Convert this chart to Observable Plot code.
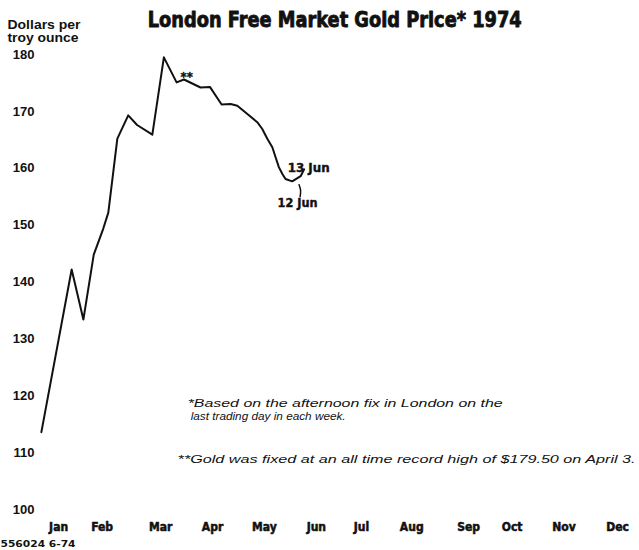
<!DOCTYPE html>
<html><head><meta charset="utf-8">
<script src="https://cdn.jsdelivr.net/npm/d3@7"></script>
<script src="https://cdn.jsdelivr.net/npm/@observablehq/plot@0.6"></script>
<style>body{margin:0;background:#fff}</style>
</head><body><div id="chart"></div>
<script>
// Weekly London afternoon fix, 1974 (x = day of year, y = US$ per troy ounce)
const days   = [4.7, 22.8, 29.8, 36.0, 41.7, 44.7, 50.1, 56.6, 61.9, 71.0, 77.9, 85.5, 89.9, 99.8, 105.4, 112.4, 117.8, 121.8, 128.7, 133.7, 136.7, 139.7, 142.7, 144.7, 146.6, 148.7, 150.6, 154.6, 159.6, 161.7];
const prices = [113.6, 142.2, 133.4, 144.8, 149.4, 152.2, 165.2, 169.3, 167.6, 165.9, 179.5, 175.1, 175.6, 174.2, 174.3, 171.2, 171.3, 171.0, 169.3, 168.1, 166.9, 165.2, 163.7, 161.9, 160.2, 159.0, 158.1, 157.7, 158.6, 159.8];

const monthLabels   = ["Jan","Feb","Mar","Apr","May","Jun","Jul","Aug","Sep","Oct","Nov","Dec"];
const monthTickDays = [15, 41, 76, 107, 138, 169, 196, 226, 260, 286, 317, 349];
const yTicks = [100, 110, 120, 130, 140, 150, 160, 170, 180];

const title = "London Free Market Gold Price* 1974";
const yLabelLines = ["Dollars per", "troy ounce"];
const caption = "556024 6-74";

const annoText = ["**", "13 Jun", "12 Jun"];
const annoDay  = [91.5, 164.4, 157.8];
const annoVal  = [176.1, 160.0, 154.0];
const annoAnchor = ["middle", "start", "end"];

const leaderDay = [158.7, 159.6, 159.3];
const leaderVal = [157.1, 156.1, 155.0];

const noteText = ["*Based on the afternoon fix in London on the", "last trading day in each week.", "**Gold was fixed at an all time record high of $179.50 on April 3."];
const noteDay  = [92.1, 93.9, 86.1];
const noteVal  = [118.6, 116.3, 108.9];

const series = days.map((d, i) => ({day: d, price: prices[i]}));
const narrow = "'Liberation Sans Narrow','DejaVu Sans Condensed','Arial Narrow',sans-serif";
const sans = "'Liberation Sans',Arial,Helvetica,sans-serif";

const chart = Plot.plot({
  width: 639, height: 550,
  marginLeft: 33, marginRight: 3.5, marginTop: 54, marginBottom: 41,
  x: {domain: [0, 360], axis: null},
  y: {domain: [100, 180], axis: null},
  style: {background: "#fff", color: "#111"},
  marks: [
    Plot.line(series, {x: "day", y: "price", stroke: "#111", strokeWidth: 2, strokeLinejoin: "round", strokeLinecap: "round"}),
    Plot.line(leaderDay.map((d, i) => ({d, v: leaderVal[i]})), {x: "d", y: "v", curve: "natural", stroke: "#111", strokeWidth: 1.5}),
    Plot.text(yTicks, {y: d => d, text: d => String(d), frameAnchor: "left", lineAnchor: "middle", textAnchor: "end", dx: 1, fontFamily: sans, fontWeight: "bold", fontSize: 13, fill: "#111"}),
    Plot.text(monthLabels, {x: monthTickDays, text: monthLabels, frameAnchor: "bottom", lineAnchor: "middle", dy: 18, fontFamily: narrow, fontWeight: "bold", fontSize: 12, fill: "#111", stroke: "#111", strokeWidth: 0.5}),
    Plot.text([title], {frameAnchor: "top", lineAnchor: "middle", dy: -34, fontFamily: narrow, fontWeight: 900, fontSize: 21, fill: "#111", stroke: "#111", strokeWidth: 0.8}),
    Plot.text([yLabelLines[0]], {frameAnchor: "top-left", lineAnchor: "middle", textAnchor: "start", dx: -26, dy: -30, fontFamily: sans, fontWeight: "bold", fontSize: 12.5, fill: "#111"}),
    Plot.text([yLabelLines[1]], {frameAnchor: "top-left", lineAnchor: "middle", textAnchor: "start", dx: -26, dy: -17, fontFamily: sans, fontWeight: "bold", fontSize: 12.5, fill: "#111"}),
    Plot.text([caption], {frameAnchor: "bottom-left", lineAnchor: "middle", textAnchor: "start", dx: -33, dy: 35, fontFamily: narrow, fontWeight: "bold", fontSize: 9, fill: "#111"}),
    Plot.text(annoText, {x: annoDay, y: annoVal, text: annoText, lineAnchor: "middle", textAnchor: (d, i) => annoAnchor[i], fontFamily: narrow, fontWeight: "bold", fontSize: 13, fill: "#111", stroke: "#111", strokeWidth: 0.4}),
    Plot.text(noteText, {x: noteDay, y: noteVal, text: noteText, lineAnchor: "middle", textAnchor: "start", fontFamily: sans, fontStyle: "italic", fontSize: 11.5, fill: "#111"})
  ]
});
document.getElementById("chart").append(chart);

// fit a few texts to the widths they have in the reference
const widths = new Map([
  [title, 374], [yLabelLines[0], 73], [yLabelLines[1], 71], [caption, 75],
  ["13 Jun", 42], ["12 Jun", 40],
  [noteText[0], 315], [noteText[1], 155], [noteText[2], 458]
]);
chart.querySelectorAll("text").forEach(t => {
  const w = widths.get(t.textContent);
  if (w) { t.setAttribute("textLength", w); t.setAttribute("lengthAdjust", "spacingAndGlyphs"); }
});
</script>
</body></html>
